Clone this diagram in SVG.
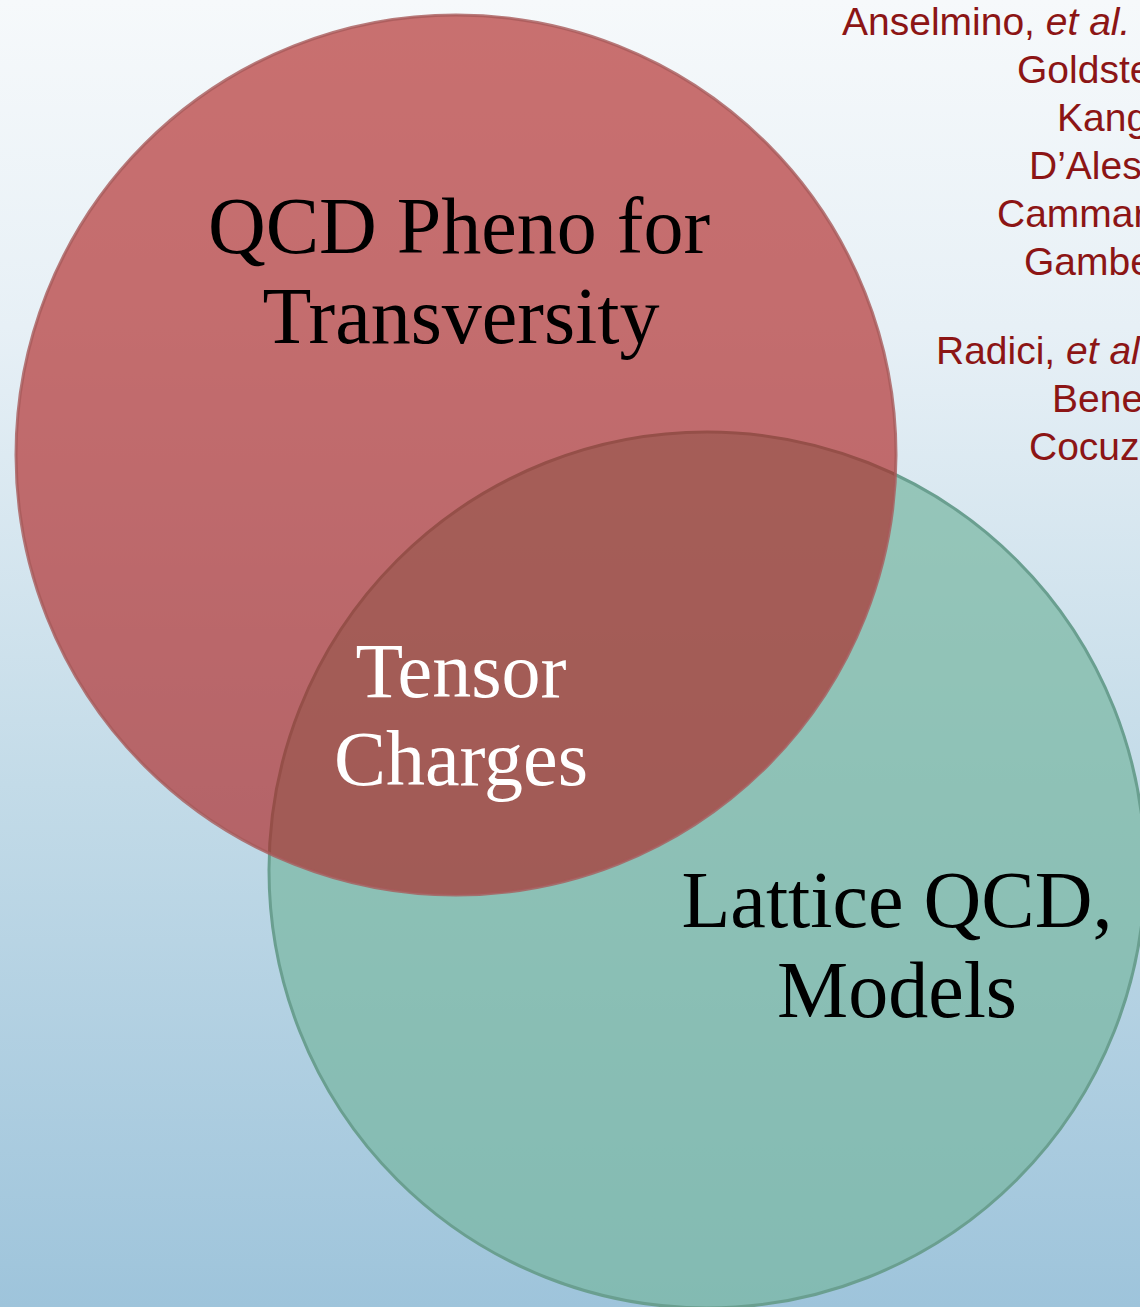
<svg xmlns="http://www.w3.org/2000/svg" width="1140" height="1307" viewBox="0 0 1140 1307">
<defs>
<linearGradient id="bg" x1="0" y1="0" x2="0" y2="1">
<stop offset="0" stop-color="#f6f9fb"/>
<stop offset="0.25" stop-color="#e7f0f6"/>
<stop offset="0.6" stop-color="#c3dbe8"/>
<stop offset="1" stop-color="#9ec4db"/>
</linearGradient>
<style>
.serif{font-family:"Liberation Serif","Times New Roman",serif;font-size:80px;text-anchor:middle}
.ref{font-family:"Liberation Sans",Arial,sans-serif;font-size:39px;fill:#8c1515}
.it{font-style:italic}
</style>
</defs>
<rect x="0" y="0" width="1140" height="1307" fill="url(#bg)"/>
<g id="refs">
<text class="ref" x="842" y="35">Anselmino, <tspan class="it">et al.</tspan></text>
<text class="ref" x="1017" y="83">Goldste</text>
<text class="ref" x="1057" y="131">Kang</text>
<text class="ref" x="1029" y="179">D’Ales</text>
<text class="ref" x="997" y="227">Cammar</text>
<text class="ref" x="1024" y="275">Gambe</text>
<text class="ref" x="936" y="364">Radici, <tspan class="it">et al</tspan></text>
<text class="ref" x="1052" y="412">Bene</text>
<text class="ref" x="1029" y="460">Cocuz</text>
</g>
<g id="lattice">
<circle cx="707" cy="870" r="438" fill="rgb(120,182,161)" fill-opacity="0.7" stroke="#6a9f90" stroke-width="3"/>
</g>
<g id="pheno">
<circle cx="456" cy="455" r="440" fill="rgb(174,32,30)" fill-opacity="0.63" stroke="#a85a5a" stroke-opacity="0.8" stroke-width="3"/>
</g>
<g id="labels">
<text class="serif" x="459" y="253" fill="#000">QCD Pheno for</text>
<text class="serif" x="461" y="343" fill="#000">Transversity</text>
<text class="serif" x="461" y="697" fill="#fff" style="font-size:78px">Tensor</text>
<text class="serif" x="461" y="785" fill="#fff" style="font-size:78px">Charges</text>
<text class="serif" x="897" y="927" fill="#000">Lattice QCD,</text>
<text class="serif" x="897" y="1017" fill="#000">Models</text>
</g>
<g id="connectors"/>
</svg>
